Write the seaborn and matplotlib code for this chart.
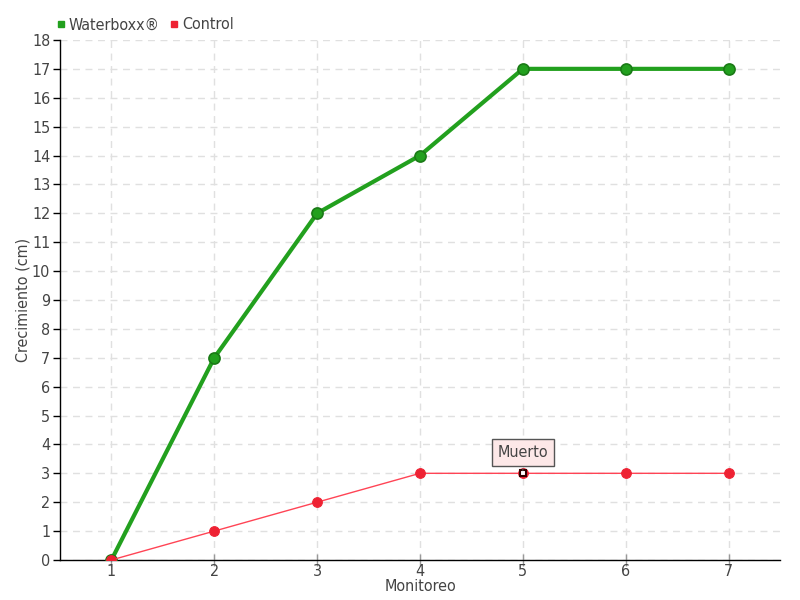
import matplotlib
matplotlib.use('Agg')
import matplotlib.pyplot as plt
import seaborn as sns
import pandas as pd
from matplotlib.lines import Line2D

# datos
monitoreo = [1, 2, 3, 4, 5, 6, 7]
waterboxx = [0, 7, 12, 14, 17, 17, 17]
control = [0, 1, 2, 3, 3, 3, 3]

df = pd.DataFrame({'Monitoreo': monitoreo * 2,
                   'Crecimiento': waterboxx + control,
                   'Serie': ['Waterboxx®'] * 7 + ['Control'] * 7})

sns.set_style('white')
plt.rcParams['font.family'] = ['DejaVu Sans']
plt.rcParams['font.stretch'] = 'condensed'

verde = '#22a01e'
rojo = '#ee2233'
gris = '#444444'

fig = plt.figure(figsize=(8, 6), dpi=100)
ax = fig.add_axes([0.075, 0.0667, 0.9, 0.8667])

wb = df[df['Serie'] == 'Waterboxx®']
ct = df[df['Serie'] == 'Control']
sns.lineplot(data=wb, x='Monitoreo', y='Crecimiento', color=verde, linewidth=3,
             marker='o', markersize=8, markerfacecolor=verde, markeredgecolor='#1a7a16',
             markeredgewidth=1.2, ax=ax, zorder=3)
sns.lineplot(data=ct, x='Monitoreo', y='Crecimiento', color='#ff4455', linewidth=1,
             marker='o', markersize=7, markerfacecolor=rojo, markeredgecolor=rojo,
             ax=ax, zorder=4)

# punto "Muerto"
ax.plot(5, 3, marker='s', markersize=5, markerfacecolor='white', markeredgecolor='#330000',
        markeredgewidth=1.5, zorder=5, linestyle='none')
ax.annotate('Muerto', xy=(5, 3), xytext=(5, 3.72), ha='center', va='center',
            fontsize=11.5, color=gris,
            bbox=dict(boxstyle='square,pad=0.35', fc='#fde8e8', ec='#555555', lw=1),
            arrowprops=dict(arrowstyle='-', color='#555555', lw=0.8), zorder=6)

ax.set_xlim(0.5, 7.5)
ax.set_ylim(0, 18)
ax.set_xticks(monitoreo)
ax.set_yticks(range(0, 19))
ax.grid(True, color='#e0e0e0', linestyle=(0, (5, 4)), linewidth=1)
for s in ['top', 'right']:
    ax.spines[s].set_visible(False)
for s in ['left', 'bottom']:
    ax.spines[s].set_color('black')
    ax.spines[s].set_linewidth(1)
ax.tick_params(axis='y', direction='out', length=5, width=1, colors='black',
               labelcolor=gris, labelsize=11.5, left=True, pad=2)
ax.tick_params(axis='x', direction='inout', length=8, width=1, colors='#999999',
               labelcolor=gris, labelsize=11.5, bottom=True, pad=-1)
ax.set_xlabel('Monitoreo', color=gris, fontsize=11.5, labelpad=0)
ax.set_ylabel('Crecimiento (cm)', color=gris, fontsize=11.5, labelpad=1)

handles = [Line2D([], [], marker='s', linestyle='none', color=verde, markersize=5),
           Line2D([], [], marker='s', linestyle='none', color=rojo, markersize=5)]
fig.legend(handles, ['Waterboxx®', 'Control'], loc='upper left', bbox_to_anchor=(0.05, 0.995),
           ncol=2, frameon=False, fontsize=11.5, handletextpad=0.1, columnspacing=0.5,
           handlelength=0.8, labelcolor=gris)

fig.savefig('out.png', dpi=100)
